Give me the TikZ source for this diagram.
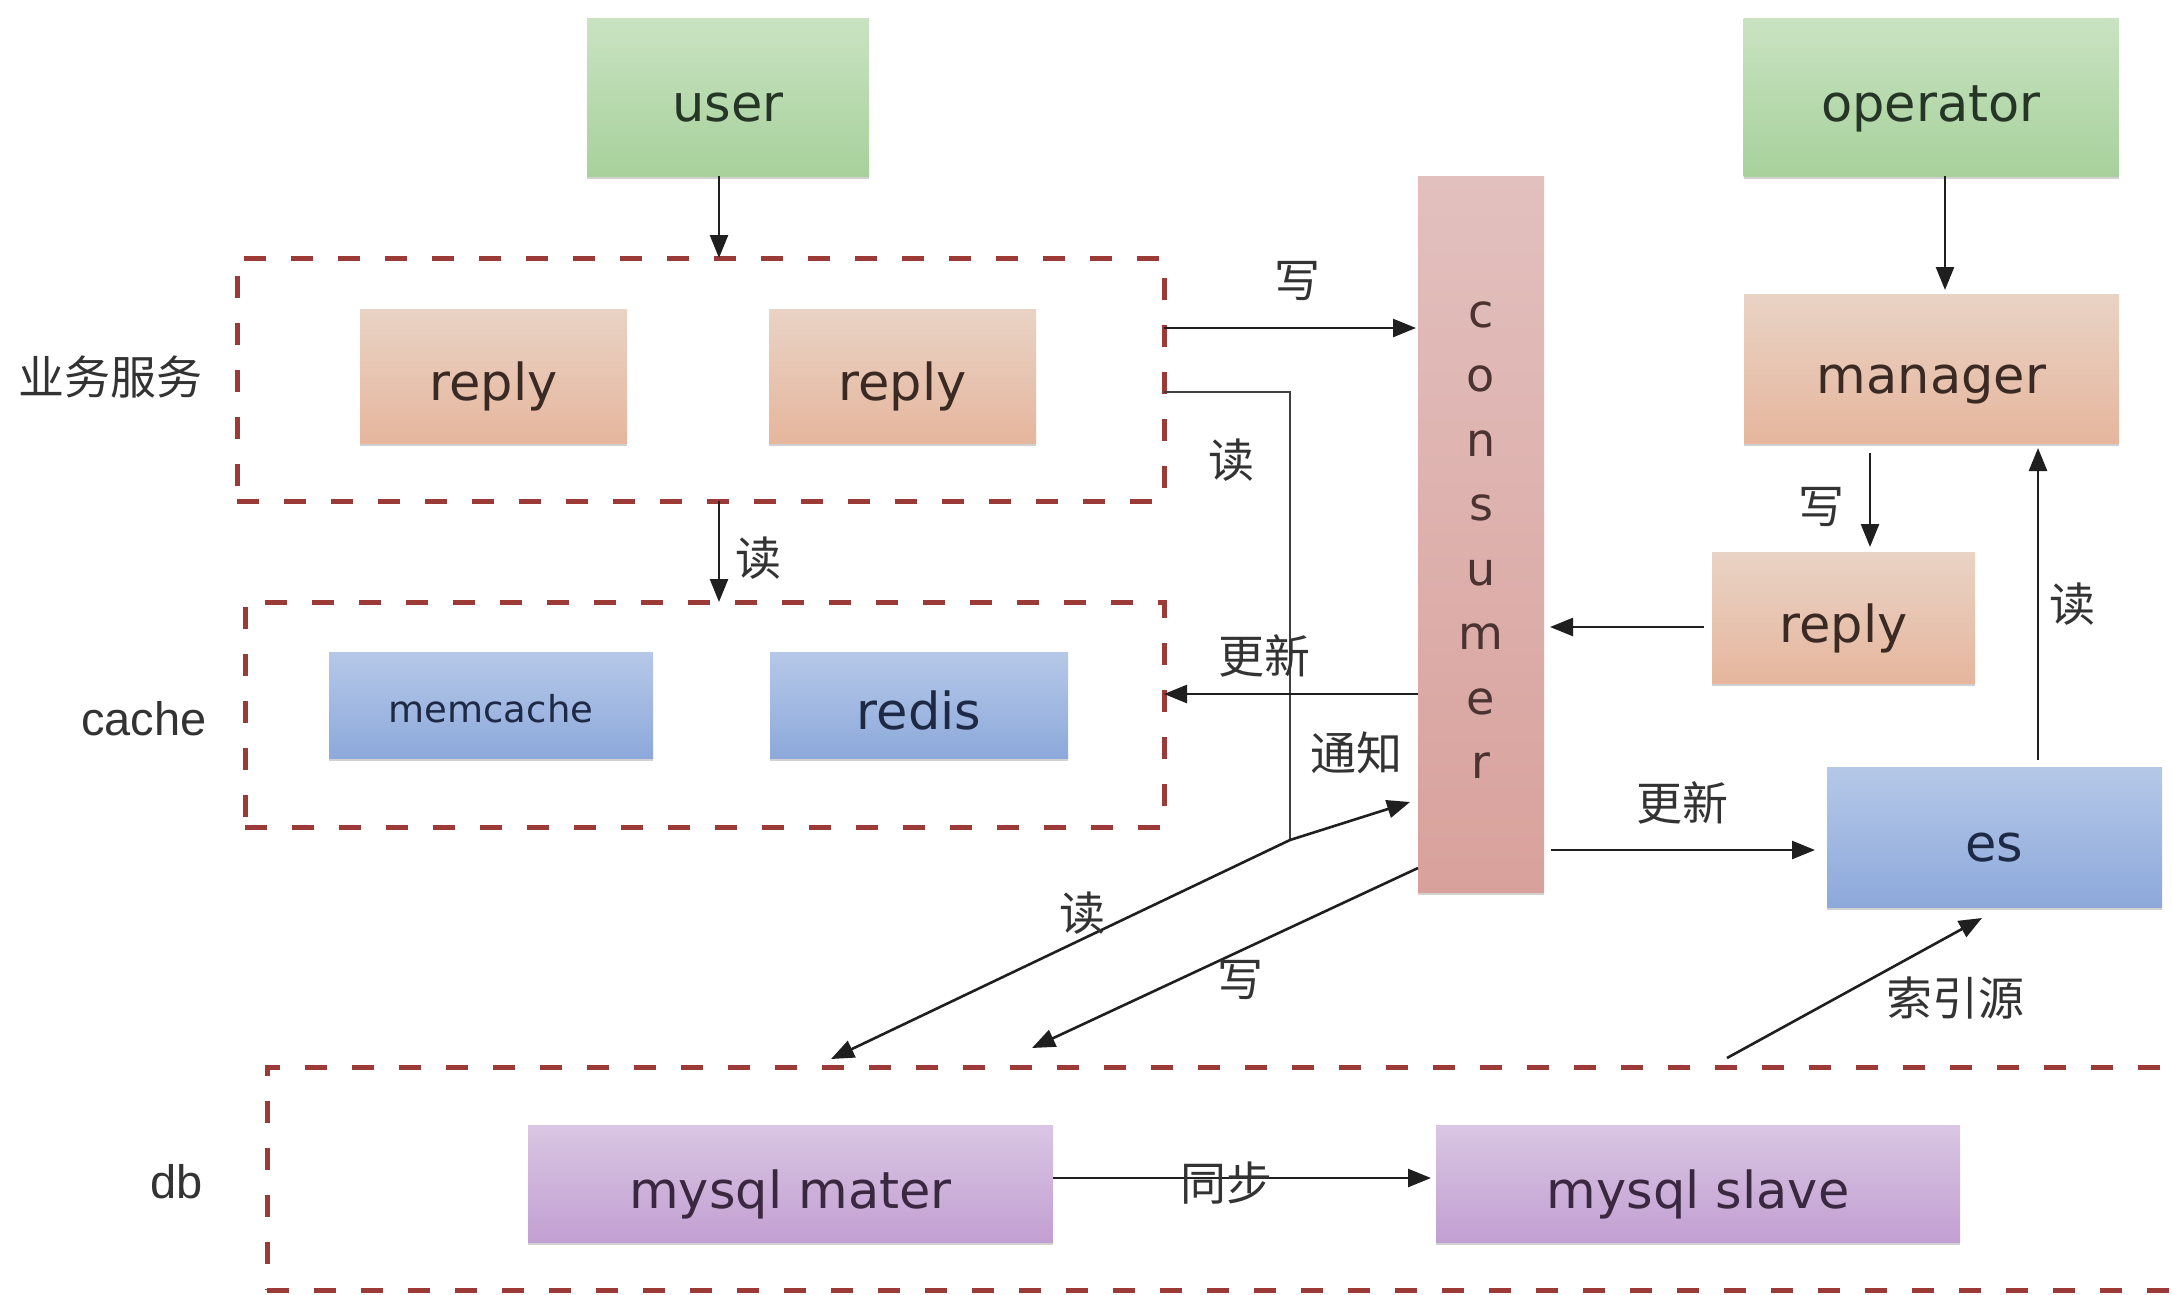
\documentclass[tikz,border=0pt]{standalone}
\usepackage{fontspec}
\setmainfont{DejaVu Sans}
\newfontfamily\cjk{Noto Sans CJK SC}
\newfontfamily\labfont{Liberation Sans}
\usetikzlibrary{arrows.meta,shadows,calc}
\definecolor{grpred}{HTML}{9B3A36}
\definecolor{gTop}{HTML}{C9E3C2}\definecolor{gBot}{HTML}{A7D19B}\definecolor{gTxt}{HTML}{263626}
\definecolor{sTop}{HTML}{E9D3C5}\definecolor{sBot}{HTML}{E6B69D}\definecolor{sTxt}{HTML}{3B2A24}
\definecolor{bTop}{HTML}{B5C8E8}\definecolor{bBot}{HTML}{8DA9DB}\definecolor{bTxt}{HTML}{1E2A45}
\definecolor{pTop}{HTML}{D9C6E3}\definecolor{pBot}{HTML}{C29FD2}\definecolor{pTxt}{HTML}{3A2740}
\definecolor{cTop}{HTML}{E2C0BE}\definecolor{cBot}{HTML}{D9A19C}\definecolor{cTxt}{HTML}{4A3330}
\definecolor{lblc}{HTML}{333333}
\begin{document}
\begin{tikzpicture}[x=1pt,y=-1pt,
  every node/.style={outer sep=0pt,inner sep=0pt},
  cbox/.style={rectangle,draw=none,drop shadow={shadow xshift=0pt,shadow yshift=-3pt,opacity=0.18,fill=black},
     font=\fontsize{51}{60}\selectfont,text height=49pt,text depth=0pt},
  greenbox/.style={cbox,top color=gTop,bottom color=gBot,text=gTxt},
  salmonbox/.style={cbox,top color=sTop,bottom color=sBot,text=sTxt},
  bluebox/.style={cbox,top color=bTop,bottom color=bBot,text=bTxt},
  purplebox/.style={cbox,top color=pTop,bottom color=pBot,text=pTxt},
  grp/.style={rectangle,draw=grpred,line width=5pt,dash pattern=on 22pt off 25pt},
  arr/.style={draw=black!88,line width=2.6pt,-{Triangle[length=23pt,width=18pt]}},
  thinline/.style={draw=black!75,line width=2pt},
  lbl/.style={font=\cjk\fontsize{46}{50}\selectfont,text=lblc},
  elbl/.style={font=\labfont\fontsize{47}{50}\selectfont,text=lblc}]
\useasboundingbox (0,0) rectangle (2172,1294);
\clip (0,0) rectangle (2172,1294);
\fill[white] (0,0) rectangle (2172,1294);

% groups
\node[grp,minimum width=927pt,minimum height=243pt] (ywfw) at (700.5,379.5) {};
\node[grp,minimum width=919pt,minimum height=225pt] (cache) at (704.5,714.5) {};
\node[grp,minimum width=1963pt,minimum height=223pt] (db) at (1248.5,1178.5) {};

% boxes
\node[greenbox,minimum width=282pt,minimum height=158pt] (user) at (728,97) {user};
\node[greenbox,minimum width=375pt,minimum height=158pt] (operator) at (1931,97) {operator};
\node[salmonbox,minimum width=267pt,minimum height=134pt] (reply1) at (493.5,376) {reply};
\node[salmonbox,minimum width=267pt,minimum height=134pt] (reply2) at (902.5,376) {reply};
\node[bluebox,minimum width=324pt,minimum height=106pt,font=\fontsize{37}{44}\selectfont,text height=35pt] (memcache) at (491,705) {memcache};
\node[bluebox,minimum width=298pt,minimum height=106pt] (redis) at (919,705) {redis};
\node[cbox,top color=cTop,bottom color=cBot,minimum width=126pt,minimum height=716pt] (consumer) at (1481,534) {};
\node[text=cTxt,align=center,font=\fontsize{46}{64.5}\selectfont] (ctext) at ($(consumer.center)+(0,6)$) {c\\o\\n\\s\\u\\m\\e\\r};
\node[salmonbox,minimum width=375pt,minimum height=149pt] (manager) at (1931.5,368.5) {manager};
\node[salmonbox,minimum width=263pt,minimum height=131pt] (reply3) at (1843.5,617.5) {reply};
\node[bluebox,minimum width=335pt,minimum height=140pt] (es) at (1994.5,837) {es};
\node[purplebox,minimum width=525pt,minimum height=117pt] (mysqlm) at (790.5,1183.5) {mysql mater};
\node[purplebox,minimum width=524pt,minimum height=117pt] (mysqls) at (1698,1183.5) {mysql slave};

% group labels
\node[lbl] (lywfw) at (111,377) {业务服务};
\node[elbl] (lcache) at (144,719) {cache};
\node[elbl] (ldb) at (177,1182) {db};

% coordinates
\coordinate (w1) at ($(ywfw.east)+(0,-51.5)$);
\coordinate (r1) at ($(ywfw.east)+(0,12.5)$);
\coordinate (J) at (1290,840);
\coordinate (dbr) at ($(db.north west)+(564,-8)$);
\coordinate (dbw) at ($(db.north west)+(765,-19)$);
\coordinate (dbi) at ($(db.north west)+(1460,-9)$);
\coordinate (cn) at ($(consumer.west)+(-8,268)$);
\coordinate (cw) at ($(consumer.west)+(0,334)$);
\coordinate (g1) at ($(consumer.west)+(0,160)$);
\coordinate (rp) at ($(reply3.west)+(-8,9.5)$);
\coordinate (ce) at ($(consumer.east)+(7,316)$);
\coordinate (om) at ($(operator.south)+(14,0)$);
\coordinate (mr) at ($(manager.south)+(-61.5,10)$);
\coordinate (em) at ($(es.north)+(43.5,-7)$);
\coordinate (ei) at ($(es.south)+(-12.5,11)$);
\coordinate (sy) at ($(mysqlm.east)+(0,-5.5)$);

% connectors
\draw[arr] ($(user.south)+(-9,0)$) -- ($(user.south|-ywfw.north)+(-9,0)$);
\draw[arr] ($(ywfw.south)+(18.5,0)$) -- ($(cache.north)+(14.5,0)$);
\draw[arr,shorten >=2pt] (w1) -- (w1 -| consumer.west);
\draw[thinline] (r1) -| (J);
\draw[arr] (J) -- (dbr);
\draw[arr] (J) -- (cn);
\draw[arr] (cw) -- (dbw);
\draw[arr] (g1) -- (g1 -| cache.east);
\draw[arr,shorten >=6pt] (rp) -- (rp -| consumer.east);
\draw[arr,shorten >=12pt] (ce) -- (ce -| es.west);
\draw[arr,shorten >=4pt] (om) -- (om |- manager.north);
\draw[arr,shorten >=5pt] (mr) -- (mr |- reply3.north);
\draw[arr,shorten >=5pt] (em) -- (em |- manager.south);
\draw[arr] (dbi) -- (ei);
\draw[arr,shorten >=5pt] (sy) -- (sy -| mysqls.west);

% connector labels
\node[lbl] (l1) at (1297,281) {写};
\node[lbl] (l2) at (1231,460) {读};
\node[lbl] (l3) at (758,558) {读};
\node[lbl] (l4) at (1264,656) {更新};
\node[lbl] (l5) at (1356,753) {通知};
\node[lbl] (l6) at (1082,913) {读};
\node[lbl] (l7) at (1240,980) {写};
\node[lbl] (l8) at (1821,507) {写};
\node[lbl] (l9) at (2072,604) {读};
\node[lbl] (l10) at (1682,803) {更新};
\node[lbl] (l11) at (1955,998) {索引源};
\node[lbl] (l12) at (1226,1183) {同步};
\end{tikzpicture}
\end{document}
